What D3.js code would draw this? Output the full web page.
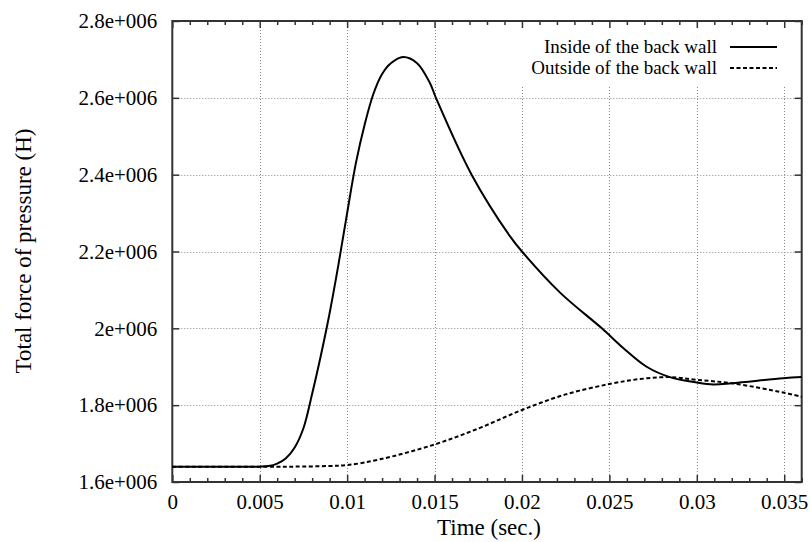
<!DOCTYPE html>
<html>
<head>
<meta charset="utf-8">
<script src="https://cdn.jsdelivr.net/npm/d3@7/dist/d3.min.js"></script>
<style>
body { margin: 0; background: #fff; }
text { font-family: "Liberation Serif", "Times New Roman", serif; fill: #000; }
</style>
</head>
<body>
<div id="chart"></div>
<script>
// values
const insideTime  = [0, 0.004, 0.005, 0.0055, 0.006, 0.0065, 0.007, 0.0075, 0.008, 0.0085, 0.009, 0.0095, 0.01, 0.0105, 0.011, 0.0115, 0.012, 0.0125, 0.0132, 0.014, 0.01474, 0.01508, 0.01712, 0.01931, 0.02, 0.02218, 0.02457, 0.02579, 0.02713, 0.02846, 0.030, 0.03094, 0.032, 0.03494, 0.036];
const insideForce = [1.64e6, 1.64e6, 1.64e6, 1.6415e6, 1.648e6, 1.662e6, 1.69e6, 1.74e6, 1.83e6, 1.93e6, 2.04e6, 2.165e6, 2.3e6, 2.43e6, 2.53e6, 2.61e6, 2.662e6, 2.69e6, 2.706e6, 2.69e6, 2.638e6, 2.6e6, 2.4e6, 2.24e6, 2.2e6, 2.093e6, 2.0e6, 1.949e6, 1.9e6, 1.873e6, 1.859e6, 1.854e6, 1.857e6, 1.870e6, 1.873e6];

const outsideTime  = [0, 0.006, 0.007, 0.009, 0.01, 0.01188, 0.01502, 0.0176, 0.02, 0.0225, 0.025, 0.02675, 0.02846, 0.030, 0.032, 0.03494, 0.036];
const outsideForce = [1.64e6, 1.64e6, 1.64e6, 1.6417e6, 1.644e6, 1.659e6, 1.698e6, 1.741e6, 1.7875e6, 1.828e6, 1.855e6, 1.868e6, 1.873e6, 1.866e6, 1.857e6, 1.833e6, 1.822e6];

const xTicks = [0, 0.005, 0.01, 0.015, 0.02, 0.025, 0.03, 0.035];
const xTickLabels = ['0', '0.005', '0.01', '0.015', '0.02', '0.025', '0.03', '0.035'];
const yTicks = [1.6e6, 1.8e6, 2.0e6, 2.2e6, 2.4e6, 2.6e6, 2.8e6];
const yTickLabels = ['1.6e+006', '1.8e+006', '2e+006', '2.2e+006', '2.4e+006', '2.6e+006', '2.8e+006'];
const seriesNames = ['Inside of the back wall', 'Outside of the back wall'];

// sizes
const w = 811,
      h = 542,
      pLeft = 172.3,
      pTop = 21,
      pRight = 801.7,
      pBottom = 482,
      tickFont = 21,
      keyFont = 19,
      titleFont = 23;

const svg = d3.select('#chart')
    .append('svg')
    .attr('width', w)
    .attr('height', h);

const xScale = d3.scaleLinear()
    .domain([0, 0.036])
    .range([pLeft, pRight]);

const yScale = d3.scaleLinear()
    .domain([1.6e6, 2.8e6])
    .range([pBottom, pTop]);

// minor x ticks every 0.001
const minorX = d3.range(0, 0.0365, 0.001).filter(t => Math.round(t * 1000) % 5 !== 0);

// grid
const grid = svg.append('g')
    .attr('stroke', '#888')
    .attr('stroke-width', 1)
    .attr('stroke-dasharray', '1,2');

grid.selectAll('.gx')
    .data(xTicks.slice(1))
    .enter()
    .append('line')
    .attr('x1', d => Math.round(xScale(d)) + 0.5)
    .attr('x2', d => Math.round(xScale(d)) + 0.5)
    .attr('y1', pTop)
    .attr('y2', pBottom);

grid.selectAll('.gy')
    .data(yTicks.slice(1, -1))
    .enter()
    .append('line')
    .attr('y1', d => Math.round(yScale(d)) + 0.5)
    .attr('y2', d => Math.round(yScale(d)) + 0.5)
    .attr('x1', pLeft)
    .attr('x2', pRight);

// key background (opaque key hides grid)
svg.append('rect')
    .attr('x', 503)
    .attr('y', pTop + 1)
    .attr('width', pRight - 504)
    .attr('height', 65)
    .attr('fill', '#fff');

// axes
const axisG = svg.append('g').attr('class', 'axes');

const xAxis = d3.axisBottom(xScale)
    .tickValues(xTicks)
    .tickFormat((d, i) => xTickLabels[i])
    .tickSizeInner(-7)
    .tickSizeOuter(0)
    .tickPadding(12);

axisG.append('g')
    .attr('transform', 'translate(0,' + pBottom + ')')
    .call(xAxis);

axisG.append('g')
    .attr('transform', 'translate(0,' + pBottom + ')')
    .call(d3.axisBottom(xScale).tickValues(minorX).tickFormat('').tickSizeInner(-4).tickSizeOuter(0));

axisG.append('g')
    .attr('transform', 'translate(0,' + pTop + ')')
    .call(d3.axisTop(xScale).tickValues(xTicks).tickFormat('').tickSizeInner(-7).tickSizeOuter(0));

axisG.append('g')
    .attr('transform', 'translate(0,' + pTop + ')')
    .call(d3.axisTop(xScale).tickValues(minorX).tickFormat('').tickSizeInner(-4).tickSizeOuter(0));

const yAxis = d3.axisLeft(yScale)
    .tickValues(yTicks)
    .tickFormat((d, i) => yTickLabels[i])
    .tickSizeInner(-7)
    .tickSizeOuter(0)
    .tickPadding(15);

axisG.append('g')
    .attr('transform', 'translate(' + pLeft + ',0)')
    .call(yAxis);

axisG.append('g')
    .attr('transform', 'translate(' + pRight + ',0)')
    .call(d3.axisRight(yScale).tickValues(yTicks).tickFormat('').tickSizeInner(-7).tickSizeOuter(0));

axisG.selectAll('.domain').remove();
axisG.selectAll('.tick line')
    .attr('stroke', '#333')
    .attr('stroke-width', 1.5);
axisG.selectAll('.tick text')
    .attr('font-family', '"Liberation Serif", "Times New Roman", serif')
    .attr('font-size', tickFont)
    .attr('fill', '#000');

// border
svg.append('rect')
    .attr('x', pLeft)
    .attr('y', pTop)
    .attr('width', pRight - pLeft)
    .attr('height', pBottom - pTop)
    .attr('fill', 'none')
    .attr('stroke', '#333')
    .attr('stroke-width', 2);

// curves
const line = d3.line()
    .x(d => xScale(d[0]))
    .y(d => yScale(d[1]))
    .curve(d3.curveCatmullRom.alpha(0.5));

svg.append('path')
    .datum(insideTime.map((t, i) => [t, insideForce[i]]))
    .attr('d', line)
    .attr('fill', 'none')
    .attr('stroke', '#000')
    .attr('stroke-width', 2);

svg.append('path')
    .datum(outsideTime.map((t, i) => [t, outsideForce[i]]))
    .attr('d', line)
    .attr('fill', 'none')
    .attr('stroke', '#000')
    .attr('stroke-width', 2)
    .attr('stroke-dasharray', '4,2.5');

// legend
const legend = svg.selectAll('.key')
    .data(seriesNames)
    .enter()
    .append('g')
    .attr('transform', (d, i) => 'translate(0,' + (i * 21) + ')');

legend.append('text')
    .text(d => d)
    .attr('x', 717)
    .attr('y', 53)
    .attr('text-anchor', 'end')
    .attr('font-size', keyFont);

legend.append('line')
    .attr('x1', 730)
    .attr('x2', 777)
    .attr('y1', 47)
    .attr('y2', 47)
    .attr('stroke', '#000')
    .attr('stroke-width', 2)
    .attr('stroke-dasharray', (d, i) => i ? '4,2.5' : null);

// axis titles
svg.append('text')
    .text('Time (sec.)')
    .attr('x', (pLeft + pRight) / 2 + 2)
    .attr('y', 535)
    .attr('text-anchor', 'middle')
    .attr('font-size', titleFont);

svg.append('text')
    .text('Total force of pressure (H)')
    .attr('transform', 'translate(31,' + 251 + ') rotate(-90)')
    .attr('text-anchor', 'middle')
    .attr('font-size', titleFont);
</script>
</body>
</html>
